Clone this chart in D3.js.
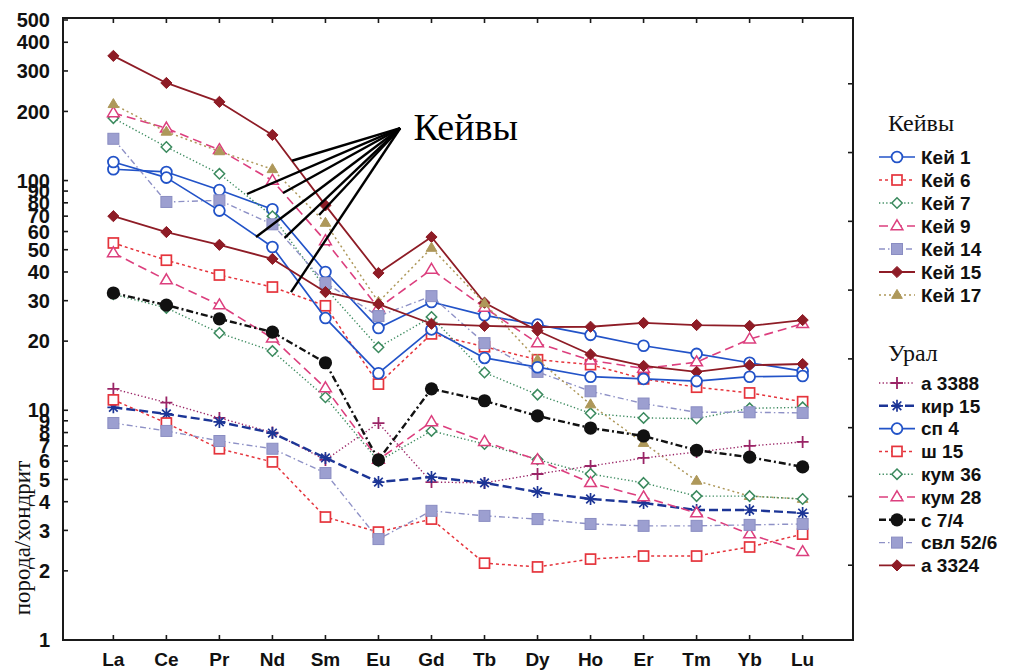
<!DOCTYPE html>
<html>
<head>
<meta charset="utf-8">
<script src="https://cdn.jsdelivr.net/npm/d3@7"></script>
<style>
  body { margin: 0; background: #fff; }
  svg { display: block; }
</style>
</head>
<body>
<svg id="chart" width="1010" height="670"></svg>
<script>
// REE elements (chondrite-normalised spectra)
const categories = ["La", "Ce", "Pr", "Nd", "Sm", "Eu", "Gd", "Tb", "Dy", "Ho", "Er", "Tm", "Yb", "Lu"];
const yTickValues = [1, 2, 3, 4, 5, 6, 7, 8, 9, 10, 20, 30, 40, 50, 60, 70, 80, 90, 100, 200, 300, 400, 500];

// Кейвы samples
const kei1  = [112, 109, 91, 75, 40, 22.8, 29.6, 25.9, 23.6, 21.3, 19.1, 17.6, 16.1, 14.8];
const kei6  = [53.5, 45, 38.8, 34.4, 28.5, 13, 21.5, 18.9, 16.6, 15.8, 13.7, 12.6, 11.9, 10.9];
const kei7  = [187, 140, 107, 70, 34, 18.8, 25.5, 14.6, 11.7, 9.7, 9.26, 9.2, 10.2, 10.3];
const kei9  = [197, 169, 136, 100, 54.6, 27.9, 41, 28, 19.6, 16.5, 15.2, 16.2, 20.4, 23.8];
const kei14 = [152, 80.7, 82, 64.5, 35.8, 25.7, 31.4, 19.6, 14.7, 12.1, 10.7, 9.8, 9.8, 9.74];
const kei15 = [349, 266, 220, 158, 78, 39.6, 56.8, 29.4, 22.2, 17.5, 15.6, 14.7, 15.7, 15.9];
const kei17 = [215, 163, 134, 112, 65.4, 29.6, 50.9, 29.2, 16.6, 10.6, 7.2, 4.93, 4.23, 4.11];

// Урал samples
const a3388  = [12.4, 10.8, 9.26, 8.0, 6.08, 8.8, 4.87, 4.83, 5.28, 5.72, 6.2, 6.58, 7.0, 7.28];
const kir15  = [10.3, 9.64, 8.9, 7.96, 6.2, 4.87, 5.12, 4.83, 4.41, 4.11, 3.95, 3.68, 3.68, 3.57];
const sp4    = [120.5, 103, 74, 51.4, 25.2, 14.5, 22.5, 16.9, 15.4, 14, 13.7, 13.4, 14, 14.1];
const sh15   = [11.1, 8.8, 6.8, 5.96, 3.43, 2.95, 3.36, 2.16, 2.08, 2.25, 2.32, 2.32, 2.54, 2.89];
const kum36  = [32, 27.9, 21.7, 18.1, 11.4, 6.0, 8.13, 7.13, 6.1, 5.28, 4.83, 4.23, 4.23, 4.11];
const kum28  = [48.4, 36.9, 28.7, 20.6, 12.5, 6.1, 8.9, 7.3, 6.08, 4.83, 4.19, 3.57, 2.89, 2.42];
const c74    = [32.4, 28.7, 25, 21.9, 16.1, 6.08, 12.4, 11, 9.45, 8.37, 7.73, 6.7, 6.25, 5.67];
const svl526 = [8.8, 8.13, 7.35, 6.8, 5.33, 2.75, 3.65, 3.47, 3.36, 3.2, 3.14, 3.14, 3.17, 3.2];
const a3324  = [70, 59.7, 52.5, 45.6, 32.7, 29, 23.8, 23.3, 23, 23.1, 24, 23.5, 23.3, 24.7];

// Leader lines of the "Кейвы" callout: [element index, value]
const calloutHub = [5.41, 169];
const calloutEnds = [[3.37, 122], [2.52, 87.4], [3.20, 88.3], [3.88, 70.8], [2.69, 56.8], [3.23, 56.3], [3.35, 32.7]];
const calloutLabel = { text: "Кейвы", at: [5.66, 150] };

// Series styling
const keiviSeries = [
  { name: "Кей 1",  values: kei1,  color: "#2253c8", dash: null,        width: 1.7, marker: "circle",   filled: false },
  { name: "Кей 6",  values: kei6,  color: "#e5343c", dash: "3,3",       width: 1.5, marker: "square",   filled: false },
  { name: "Кей 7",  values: kei7,  color: "#3b8a5e", dash: "1.3,2.3",   width: 1.4, marker: "diamond",  filled: false },
  { name: "Кей 9",  values: kei9,  color: "#dc3f7e", dash: "9,5",       width: 1.6, marker: "triangle", filled: false },
  { name: "Кей 14", values: kei14, color: "#8e91c6", dash: "6,3,1.5,3", width: 1.4, marker: "square",   filled: true },
  { name: "Кей 15", values: kei15, color: "#8e1c26", dash: null,        width: 1.8, marker: "diamond",  filled: true },
  { name: "Кей 17", values: kei17, color: "#ae985a", dash: "2,3",       width: 1.5, marker: "triangle", filled: true }
];
const uralSeries = [
  { name: "а 3388",   values: a3388,  color: "#9a2466", dash: "1.3,2.3",   width: 1.4, marker: "plus",     filled: false },
  { name: "кир 15",   values: kir15,  color: "#1c3596", dash: "9,4",       width: 2.4, marker: "asterisk", filled: false },
  { name: "сп 4",     values: sp4,    color: "#2253c8", dash: null,        width: 1.7, marker: "circle",   filled: false },
  { name: "ш 15",     values: sh15,   color: "#e5343c", dash: "3,3",       width: 1.5, marker: "square",   filled: false },
  { name: "кум 36",   values: kum36,  color: "#3b8a5e", dash: "1.3,2.3",   width: 1.4, marker: "diamond",  filled: false },
  { name: "кум 28",   values: kum28,  color: "#dc3f7e", dash: "9,5",       width: 1.6, marker: "triangle", filled: false },
  { name: "с 7/4",    values: c74,    color: "#111111", dash: "7,3,2,3",   width: 2.4, marker: "dot",      filled: true },
  { name: "свл 52/6", values: svl526, color: "#8e91c6", dash: "6,3,1.5,3", width: 1.4, marker: "square",   filled: true },
  { name: "а 3324",   values: a3324,  color: "#8e1c26", dash: null,        width: 1.8, marker: "diamond",  filled: true }
];

const SANS = "'Liberation Sans', Arial, sans-serif";
const SERIF = "'Liberation Serif', 'Times New Roman', serif";

const frame = { left: 63, right: 853, top: 18, bottom: 640 };
const svg = d3.select("#chart");

const x = d3.scalePoint().domain(categories).range([frame.left, frame.right]).padding(0.95);
const y = d3.scaleLog().domain([1, 500]).range([frame.bottom, 20]);
const xi = i => x(categories[0]) + i * x.step();
// Secondary (unlabelled) linear scale of the right-hand frame edge
const yRight = d3.scaleLinear().domain([0, 9]).range([634, 15]);

// ---- marker drawing ----
function drawMarker(g, s, cx, cy) {
  const stroke = s.color;
  const fill = s.filled ? s.color : "#fff";
  const m = g.append("g").attr("transform", `translate(${cx},${cy})`);
  switch (s.marker) {
    case "circle":
      m.append("circle").attr("r", 5.4).attr("fill", "#fff").attr("stroke", stroke).attr("stroke-width", 1.8);
      break;
    case "dot":
      m.append("circle").attr("r", 6.6).attr("fill", stroke);
      break;
    case "square":
      if (s.filled) {
        m.append("rect").attr("x", -5.5).attr("y", -5.5).attr("width", 11).attr("height", 11)
          .attr("fill", "#9c9fd0").attr("stroke", "#8a8dc2").attr("stroke-width", 1);
      } else {
        m.append("rect").attr("x", -5).attr("y", -5).attr("width", 10).attr("height", 10)
          .attr("fill", "#fff").attr("stroke", stroke).attr("stroke-width", 1.7);
      }
      break;
    case "diamond": {
      const r = s.filled ? 5.6 : 5.2;
      m.append("path").attr("d", `M0,${-r}L${r},0L0,${r}L${-r},0Z`)
        .attr("fill", fill).attr("stroke", stroke).attr("stroke-width", s.filled ? 1 : 1.5);
      break;
    }
    case "triangle": {
      const r = s.filled ? 5.6 : 6.2;
      m.append("path").attr("d", `M0,${-r}L${r * 0.95},${r * 0.6}L${-r * 0.95},${r * 0.6}Z`)
        .attr("fill", fill).attr("stroke", stroke).attr("stroke-width", s.filled ? 1 : 1.5);
      break;
    }
    case "plus":
      m.append("path").attr("d", "M-6,0H6M0,-6V6").attr("stroke", stroke).attr("stroke-width", 1.8).attr("fill", "none");
      break;
    case "asterisk":
      m.append("path").attr("d", "M-6,0H6M0,-6V6M-4.3,-4.3L4.3,4.3M-4.3,4.3L4.3,-4.3")
        .attr("stroke", stroke).attr("stroke-width", 1.7).attr("fill", "none");
      break;
  }
}

// ---- frame and axes ----
const axisColor = "#1a1a1a";
svg.append("rect")
  .attr("x", frame.left).attr("y", frame.top)
  .attr("width", frame.right - frame.left).attr("height", frame.bottom - frame.top)
  .attr("fill", "none").attr("stroke", axisColor).attr("stroke-width", 2);

const ticks = svg.append("g").attr("stroke", axisColor).attr("stroke-width", 1.6);
// bottom and top ticks at the elements
categories.forEach(c => {
  ticks.append("line").attr("x1", x(c)).attr("x2", x(c)).attr("y1", frame.bottom).attr("y2", frame.bottom - 5);
  ticks.append("line").attr("x1", x(c)).attr("x2", x(c)).attr("y1", frame.top).attr("y2", frame.top + 5);
});
// left ticks
yTickValues.forEach(v => {
  ticks.append("line").attr("x1", frame.left).attr("x2", frame.left + 5).attr("y1", y(v)).attr("y2", y(v));
});
// right ticks
d3.range(1, 9).forEach(v => {
  ticks.append("line").attr("x1", frame.right).attr("x2", frame.right - 5).attr("y1", yRight(v)).attr("y2", yRight(v));
});

// y tick labels
svg.append("g").selectAll("text").data(yTickValues).join("text")
  .attr("x", 50).attr("y", d => y(d)).attr("dy", "0.36em")
  .attr("text-anchor", "end")
  .attr("font-family", SANS).attr("font-weight", "bold").attr("font-size", 20)
  .attr("fill", "#111").text(d => d);

// x tick labels
svg.append("g").selectAll("text").data(categories).join("text")
  .attr("x", d => x(d)).attr("y", 666)
  .attr("text-anchor", "middle")
  .attr("font-family", SANS).attr("font-weight", "bold").attr("font-size", 19)
  .attr("fill", "#111").text(d => d);

// y axis title
svg.append("text")
  .attr("transform", "translate(30,538) rotate(-90)")
  .attr("text-anchor", "middle")
  .attr("font-family", SERIF).attr("font-size", 23).attr("fill", "#111")
  .text("порода/хондрит");

// ---- series ----
const line = d3.line()
  .defined(d => d.v != null)
  .x(d => x(d.c)).y(d => y(d.v));

const plot = svg.append("g");
[...keiviSeries, ...uralSeries].forEach(s => {
  const pts = categories.map((c, i) => ({ c, v: s.values[i] }));
  plot.append("path").datum(pts)
    .attr("d", line)
    .attr("fill", "none")
    .attr("stroke", s.color)
    .attr("stroke-width", s.width)
    .attr("stroke-dasharray", s.dash)
    .attr("stroke-linejoin", "round");
  const mg = plot.append("g");
  pts.filter(p => p.v != null).forEach(p => drawMarker(mg, s, x(p.c), y(p.v)));
});

// ---- callout ----
const callout = svg.append("g").attr("stroke", "#000").attr("stroke-width", 2.4);
calloutEnds.forEach(e => {
  callout.append("line")
    .attr("x1", xi(calloutHub[0])).attr("y1", y(calloutHub[1]))
    .attr("x2", xi(e[0])).attr("y2", y(e[1]));
});
svg.append("text")
  .attr("x", xi(calloutLabel.at[0])).attr("y", y(calloutLabel.at[1]))
  .attr("font-family", SERIF).attr("font-size", 38).attr("fill", "#000")
  .text(calloutLabel.text);

// ---- legend ----
function legend(title, list, titleY, firstY, step) {
  const g = svg.append("g");
  g.append("text").attr("x", 888).attr("y", titleY)
    .attr("font-family", SERIF).attr("font-size", 24).attr("fill", "#111").text(title);
  list.forEach((s, i) => {
    const cy = firstY + i * step;
    g.append("line").attr("x1", 879).attr("x2", 915).attr("y1", cy).attr("y2", cy)
      .attr("stroke", s.color).attr("stroke-width", s.width)
      .attr("stroke-dasharray", s.dash);
    drawMarker(g, s, 897, cy);
    g.append("text").attr("x", 921).attr("y", cy).attr("dy", "0.36em")
      .attr("font-family", SANS).attr("font-weight", "bold").attr("font-size", 19)
      .attr("fill", "#111").text(s.name);
  });
}
legend("Кейвы", keiviSeries, 131, 157, 23);
legend("Урал", uralSeries, 361, 383, 22.8);
</script>
</body>
</html>
